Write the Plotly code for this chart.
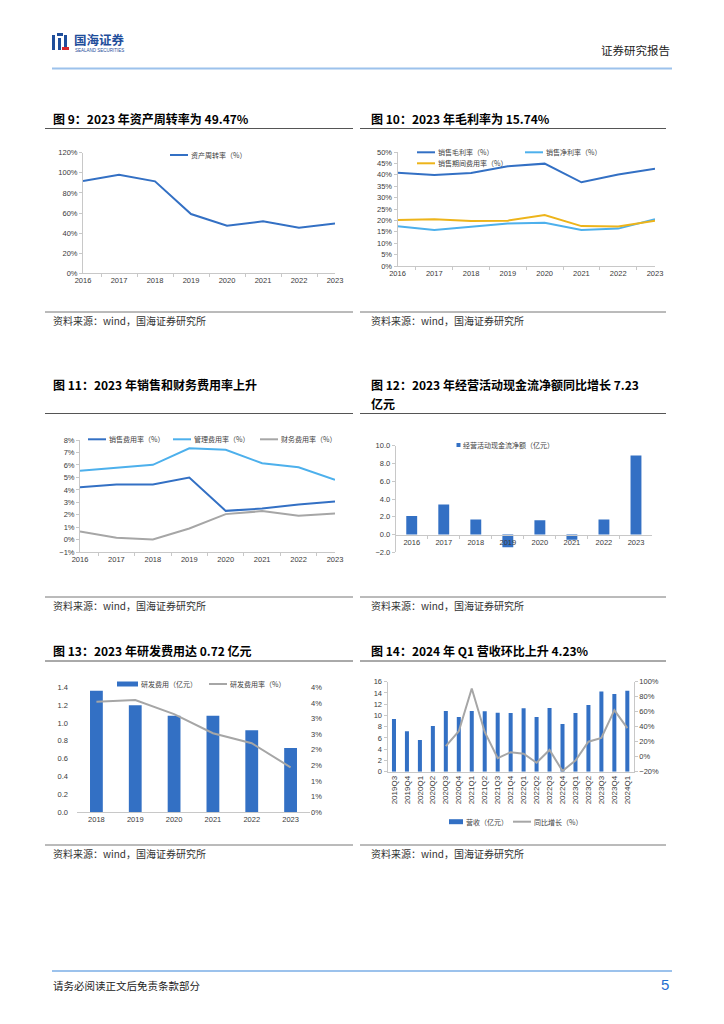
import plotly.graph_objects as go

# page is 724x1024; the browser body has an 8px margin, so the figure is 708x1008
PAGE_OFF = 8
W, H = 724 - 2 * PAGE_OFF, 1024 - 2 * PAGE_OFF

# ---------------- data ----------------
years8 = ["2016", "2017", "2018", "2019", "2020", "2021", "2022", "2023"]
asset_turnover = [91.8, 98.1, 91.5, 59.0, 47.4, 51.7, 45.4, 49.47]

gross_margin = [40.9, 39.9, 40.8, 43.7, 44.9, 36.7, 40.1, 42.7]
net_margin = [17.4, 15.8, 17.2, 18.6, 19.0, 15.8, 16.4, 20.5]
period_expense_rate = [20.2, 20.5, 19.7, 19.9, 22.4, 17.5, 17.3, 19.9]

sales_exp_rate = [4.22, 4.43, 4.43, 4.99, 2.32, 2.51, 2.83, 3.07]
admin_exp_rate = [5.53, 5.77, 6.01, 7.34, 7.21, 6.14, 5.82, 4.81]
fin_exp_rate = [0.67, 0.16, 0.03, 0.91, 2.06, 2.30, 1.92, 2.11]

op_cashflow = [2.10, 3.37, 1.69, -1.42, 1.61, -0.60, 1.69, 8.89]

years6 = ["2018", "2019", "2020", "2021", "2022", "2023"]
rd_expense = [1.36, 1.20, 1.08, 1.08, 0.92, 0.72]
rd_rate = [3.54, 3.59, 3.14, 2.53, 2.21, 1.44]
rd_rate_tickvals = [0, 0.5, 1, 1.5, 2, 2.5, 3, 3.5, 4]
rd_rate_ticktext = ["0%", "1%", "1%", "2%", "2%", "3%", "3%", "4%", "4%"]

quarters = ["2019Q3", "2019Q4", "2020Q1", "2020Q2", "2020Q3", "2020Q4", "2021Q1",
            "2021Q2", "2021Q3", "2021Q4", "2022Q1", "2022Q2", "2022Q3", "2022Q4",
            "2023Q1", "2023Q2", "2023Q3", "2023Q4", "2024Q1"]
revenue = [9.36, 7.17, 5.63, 8.12, 10.79, 9.72, 10.79, 10.73, 10.49, 10.43, 11.26,
           9.72, 11.32, 8.47, 10.43, 11.85, 14.28, 13.81, 14.40]
revenue_yoy = [None, None, None, None, 14, 34, 91, 33, -2, 6, 4, -8, 9, -19, -5,
               20, 25, 62, 38]

# ---------------- style ----------------
C_DBLUE = "#3370C4"
C_LBLUE = "#4DB0EC"
C_GRAY = "#A6A6A6"
C_YEL = "#EDB41A"
AX_COL = "#C8C8C8"
TICK_FONT = dict(family="Liberation Sans, Arial, sans-serif", size=7.5, color="#3A3A3A")
CJK = "Noto Sans CJK SC, sans-serif"


def X(px):
    return (px - PAGE_OFF) / W


def Y(py):
    return 1 - (py - PAGE_OFF) / H


def xdom(a, b):
    return [X(a), X(b)]


def ydom(top, bottom):
    return [Y(bottom), Y(top)]


fig = go.Figure()

# chart 9
fig.add_trace(go.Scatter(x=years8, y=asset_turnover, mode="lines",
                         line=dict(color=C_DBLUE, width=2), xaxis="x", yaxis="y"))
# chart 10
fig.add_trace(go.Scatter(x=years8, y=gross_margin, mode="lines",
                         line=dict(color=C_DBLUE, width=2), xaxis="x2", yaxis="y2"))
fig.add_trace(go.Scatter(x=years8, y=net_margin, mode="lines",
                         line=dict(color=C_LBLUE, width=2), xaxis="x2", yaxis="y2"))
fig.add_trace(go.Scatter(x=years8, y=period_expense_rate, mode="lines",
                         line=dict(color=C_YEL, width=2), xaxis="x2", yaxis="y2"))
# chart 11
fig.add_trace(go.Scatter(x=years8, y=sales_exp_rate, mode="lines",
                         line=dict(color=C_DBLUE, width=2), xaxis="x3", yaxis="y3"))
fig.add_trace(go.Scatter(x=years8, y=admin_exp_rate, mode="lines",
                         line=dict(color=C_LBLUE, width=2), xaxis="x3", yaxis="y3"))
fig.add_trace(go.Scatter(x=years8, y=fin_exp_rate, mode="lines",
                         line=dict(color=C_GRAY, width=2), xaxis="x3", yaxis="y3"))
# chart 12
fig.add_trace(go.Bar(x=years8, y=op_cashflow, marker=dict(color=C_DBLUE, line=dict(width=0)),
                     width=0.34, xaxis="x4", yaxis="y4"))
# chart 13
fig.add_trace(go.Bar(x=years6, y=rd_expense, marker=dict(color=C_DBLUE, line=dict(width=0)),
                     width=0.33, xaxis="x5", yaxis="y5"))
fig.add_trace(go.Scatter(x=years6, y=rd_rate, mode="lines",
                         line=dict(color=C_GRAY, width=2), xaxis="x5", yaxis="y6"))
# chart 14
fig.add_trace(go.Bar(x=quarters, y=revenue, marker=dict(color=C_DBLUE, line=dict(width=0)),
                     width=0.31, xaxis="x6", yaxis="y7"))
fig.add_trace(go.Scatter(x=quarters, y=revenue_yoy, mode="lines",
                         line=dict(color=C_GRAY, width=2), xaxis="x6", yaxis="y8"))


def xax(dom, anchor, **kw):
    d = dict(domain=dom, anchor=anchor, type="category", showgrid=False, zeroline=False,
             showline=True, linecolor=AX_COL, linewidth=1, ticks="outside", ticklen=3,
             tickcolor=AX_COL, tickson="boundaries", tickfont=TICK_FONT, fixedrange=True,
             automargin=False)
    d.update(kw)
    return d


def yax(dom, anchor, rng, **kw):
    d = dict(domain=dom, anchor=anchor, range=rng, showgrid=False, zeroline=False,
             showline=True, linecolor=AX_COL, linewidth=1, ticks="outside", ticklen=3,
             tickcolor=AX_COL, tickfont=TICK_FONT, fixedrange=True, automargin=False)
    d.update(kw)
    return d


layout = dict(
    template="none",
    width=W, height=H, margin=dict(l=0, r=0, t=0, b=0, pad=0, autoexpand=False),
    paper_bgcolor="white", plot_bgcolor="rgba(0,0,0,0)", showlegend=False,
    xaxis=xax(xdom(83, 335), "y"),
    yaxis=yax(ydom(152.7, 273.3), "x", [0, 120], dtick=20, ticksuffix="%"),
    xaxis2=xax(xdom(397.5, 655), "y2"),
    yaxis2=yax(ydom(152, 266), "x2", [0, 50], dtick=5, ticksuffix="%"),
    xaxis3=xax(xdom(80, 335), "y3"),
    yaxis3=yax(ydom(440, 552.3), "x3", [-1, 8], dtick=1, ticksuffix="%"),
    xaxis4=xax(xdom(395.7, 652), "free", position=Y(534.7)),
    yaxis4=yax(ydom(445.7, 552.3), "x4", [-2, 10], dtick=2, tickformat=".1f"),
    xaxis5=xax(xdom(77, 310), "y5", ticks="", ticklen=0),
    yaxis5=yax(ydom(687.3, 812.3), "x5", [0, 1.4], dtick=0.2, tickformat=".1f",
               showline=False, ticks="", ticklabelstandoff=8),
    yaxis6=yax(ydom(687.3, 812.3), "x5", [0, 4], overlaying="y5", side="right",
               tickvals=rd_rate_tickvals, ticktext=rd_rate_ticktext,
               showline=False, ticks=""),
    xaxis6=xax(xdom(387.5, 633.8), "y7", tickangle=-90, ticks="",
               tickfont=dict(TICK_FONT, size=8)),
    yaxis7=yax(ydom(681.7, 771.7), "x6", [0, 16], dtick=2),
    yaxis8=yax(ydom(681.7, 771.7), "x6", [-20, 100], dtick=20, ticksuffix="%",
               overlaying="y7", side="right"),
)
fig.update_layout(**layout)

shapes = []
ann = []


def hline(x0, x1, y, color, width=1):
    shapes.append(dict(type="line", xref="paper", yref="paper", x0=X(x0), x1=X(x1),
                       y0=Y(y), y1=Y(y), line=dict(color=color, width=width)))


def rect(x0, y0, x1, y1, color):
    shapes.append(dict(type="rect", xref="paper", yref="paper", x0=X(x0), x1=X(x1),
                       y0=Y(y1), y1=Y(y0), fillcolor=color, line=dict(width=0)))


def text(x, y, s, size, color="#000000", family=CJK, xanchor="left"):
    ann.append(dict(xref="paper", yref="paper", x=X(x), y=Y(y), text=s, showarrow=False,
                    xanchor=xanchor, yanchor="middle", borderpad=0,
                    font=dict(size=size, color=color, family=family)))


def leg_line(x, y, color, label):
    hline(x, x + 18, y, color, 2)
    text(x + 20, y, label, 7, "#404040")


def leg_bar(x, y, color, label, w=5, h=5):
    rect(x, y - h / 2, x + w, y + h / 2, color)
    text(x + w + 2, y, label, 7, "#404040")


# header
rect(52, 35, 55, 50, "#1F4E9B")
rect(57, 33, 63, 36, "#1F4E9B")
rect(58, 38, 61, 50, "#1F4E9B")
rect(64, 35, 67, 47, "#1F4E9B")
rect(62, 47, 69, 50, "#D7262B")
text(73, 39.5, "<b>国海证券</b>", 12.5, "#1F4E9B")
text(74, 50.8, "SEALAND SECURITIES", 4.5, "#1F4E9B", "Liberation Sans, Arial")
text(671, 50, "证券研究报告", 11.5, "#222222", xanchor="right")
hline(52, 672, 68.5, "#9CC2EC", 2)

# footer
hline(52, 672, 971, "#9CC2EC", 2)
text(52, 985, "请务必阅读正文后免责条款部分", 10.5, "#222222")
text(670, 984, "5", 15, "#1F6FD0", "Liberation Sans, Arial", xanchor="right")

# titles + underlines
TF = 12
text(52, 118, "<b>图 9：2023 年资产周转率为 49.47%</b>", TF)
text(370, 118, "<b>图 10：2023 年毛利率为 15.74%</b>", TF)
hline(45, 353, 128.5, "#555555", 1)
hline(360, 666, 128.5, "#555555", 1)

text(52, 384, "<b>图 11：2023 年销售和财务费用率上升</b>", TF)
text(370, 384, "<b>图 12：2023 年经营活动现金流净额同比增长 7.23</b>", TF)
text(370, 404, "<b>亿元</b>", TF)
hline(45, 353, 413.5, "#555555", 1)
hline(360, 666, 413.5, "#555555", 1)

text(52, 650, "<b>图 13：2023 年研发费用达 0.72 亿元</b>", TF)
text(370, 650, "<b>图 14：2024 年 Q1 营收环比上升 4.23%</b>", TF)
hline(45, 353, 661, "#555555", 1)
hline(360, 666, 661, "#555555", 1)

# source lines
for ys in (312, 597, 845):
    hline(45, 353, ys, "#777777", 1)
    hline(360, 666, ys, "#777777", 1)
    text(52, ys + 8.5, "资料来源：wind，国海证券研究所", 10, "#333333")
    text(370, ys + 8.5, "资料来源：wind，国海证券研究所", 10, "#333333")

# legends
leg_line(170, 155, C_DBLUE, "资产周转率（%）")
leg_line(417, 152.3, C_DBLUE, "销售毛利率（%）")
leg_line(525, 152.3, C_LBLUE, "销售净利率（%）")
leg_line(417, 163.3, C_YEL, "销售期间费用率（%）")
leg_line(88, 439.3, C_DBLUE, "销售费用率（%）")
leg_line(173, 439.3, C_LBLUE, "管理费用率（%）")
leg_line(260, 439.3, C_GRAY, "财务费用率（%）")
leg_bar(456.5, 445, C_DBLUE, "经营活动现金流净额（亿元）", 4, 4)
leg_bar(117, 684, C_DBLUE, "研发费用（亿元）", 21, 5)
leg_line(209, 684, C_GRAY, "研发费用率（%）")
leg_bar(449, 821.7, C_DBLUE, "营收（亿元）", 14, 5)
leg_line(513, 821.7, C_GRAY, "同比增长（%）")

fig.update_layout(shapes=shapes, annotations=ann)
fig.write_html("out.html", config={"displayModeBar": False})
